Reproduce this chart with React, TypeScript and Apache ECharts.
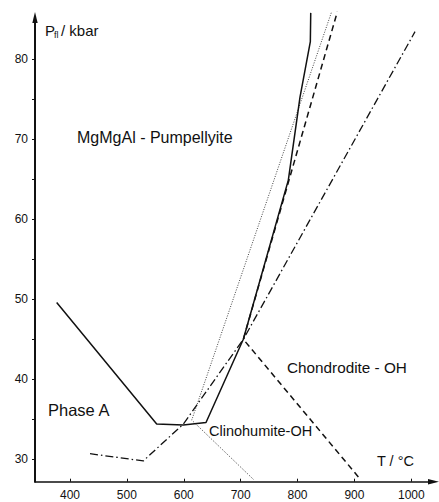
import React, { useEffect, useRef } from "react";
import * as echarts from "echarts";

// Phase boundaries (T in °C, P in kbar)
const solidT = [376.6, 552.4, 599.2, 639.1, 704.7, 783.8, 804.4, 822.5, 823.2];
const solidP = [49.6, 34.4, 34.3, 34.6, 45.0, 64.9, 75.3, 82.2, 85.8];

const dashedT = [906.9, 704.7, 870.0];
const dashedP = [27.8, 45.0, 85.95];

const dashDotT = [435.2, 528.9, 599.2, 704.7, 1006.5];
const dashDotP = [30.7, 29.8, 34.4, 45.0, 83.45];

const dottedT = [722.3, 614.0, 860.0];
const dottedP = [27.5, 34.9, 85.95];

const xTickLabels = [400, 500, 600, 700, 800, 900, 1000];
const yTickLabels = [30, 40, 50, 60, 70, 80];
const yTicks = [30, 35, 40, 45, 50, 55, 60, 65, 70, 75, 80];

const FONT = "Liberation Sans, Arial, sans-serif";
const INK = "#111";

const zip = (a: number[], b: number[]) => a.map((v, i) => [v, b[i]]);

export default function App() {
  const ref = useRef<HTMLDivElement>(null);
  useEffect(() => {
    if (!ref.current) return;
    const chart = echarts.init(ref.current, null, { renderer: "svg" });
    const lineBase = {
      type: "line",
      showSymbol: false,
      symbol: "none",
      clip: false,
      silent: true,
    };
    chart.setOption({
      animation: false,
      backgroundColor: "#fff",
      grid: { left: 35, right: 8, top: 20, bottom: 20.3, containLabel: false },
      xAxis: {
        type: "value",
        min: 338.5,
        max: 1034.6,
        splitLine: { show: false },
        axisLine: { lineStyle: { color: INK, width: 1.5 } },
        axisTick: {
          inside: true,
          length: 3,
          lineStyle: { color: INK, width: 1 },
          customValues: xTickLabels,
        },
        axisLabel: {
          customValues: xTickLabels,
          formatter: (v: number) => String(v),
          color: INK,
          fontFamily: FONT,
          fontSize: 12,
          margin: 7,
        },
      },
      yAxis: {
        type: "value",
        min: 27.2,
        max: 84.91,
        splitLine: { show: false },
        axisLine: { lineStyle: { color: INK, width: 2 } },
        axisTick: {
          length: 3,
          lineStyle: { color: INK, width: 1 },
          customValues: yTicks,
        },
        axisLabel: {
          customValues: yTickLabels,
          formatter: (v: number) => String(v),
          color: INK,
          fontFamily: FONT,
          fontSize: 12,
          margin: 7,
        },
      },
      series: [
        {
          ...lineBase,
          name: "solid",
          data: zip(solidT, solidP),
          lineStyle: { color: INK, width: 1.5, type: "solid" },
        },
        {
          ...lineBase,
          name: "dashed",
          data: zip(dashedT, dashedP),
          lineStyle: { color: INK, width: 1.5, type: [6, 4] },
        },
        {
          ...lineBase,
          name: "dashdot",
          data: zip(dashDotT, dashDotP),
          lineStyle: { color: INK, width: 1.3, type: [8, 3, 1.5, 3] },
        },
        {
          ...lineBase,
          name: "dotted",
          data: zip(dottedT, dottedP),
          lineStyle: { color: INK, width: 0.8, type: [1, 1.5] },
        },
      ],
      graphic: [
        { type: "polygon", shape: { points: [[35, 12], [32.3, 23], [37.7, 23]] }, style: { fill: INK } },
        { type: "polygon", shape: { points: [[439, 481.7], [428, 479], [428, 484.4]] }, style: { fill: INK } },
        { type: "text", left: 45, top: 23, style: { text: "P", font: `15px ${FONT}`, fill: INK } },
        { type: "text", left: 54, top: 30, style: { text: "fl", font: `9px ${FONT}`, fill: INK } },
        { type: "text", left: 61, top: 23, style: { text: "/ kbar", font: `15px ${FONT}`, fill: INK } },
        { type: "text", left: 77, top: 129, style: { text: "MgMgAl - Pumpellyite", font: `16px ${FONT}`, fill: INK } },
        { type: "text", left: 48, top: 401, style: { text: "Phase A", font: `16.5px ${FONT}`, fill: INK } },
        { type: "text", left: 209, top: 423, style: { text: "Clinohumite-OH", font: `14.5px ${FONT}`, fill: INK } },
        { type: "text", left: 287, top: 360, style: { text: "Chondrodite - OH", font: `15.3px ${FONT}`, fill: INK } },
        { type: "text", left: 377, top: 453, style: { text: "T / °C", font: `14.5px ${FONT}`, fill: INK } },
      ],
    });
    return () => chart.dispose();
  }, []);
  return <div ref={ref} style={{ width: 439, height: 502, position: "absolute", left: 0, top: 0 }} />;
}
